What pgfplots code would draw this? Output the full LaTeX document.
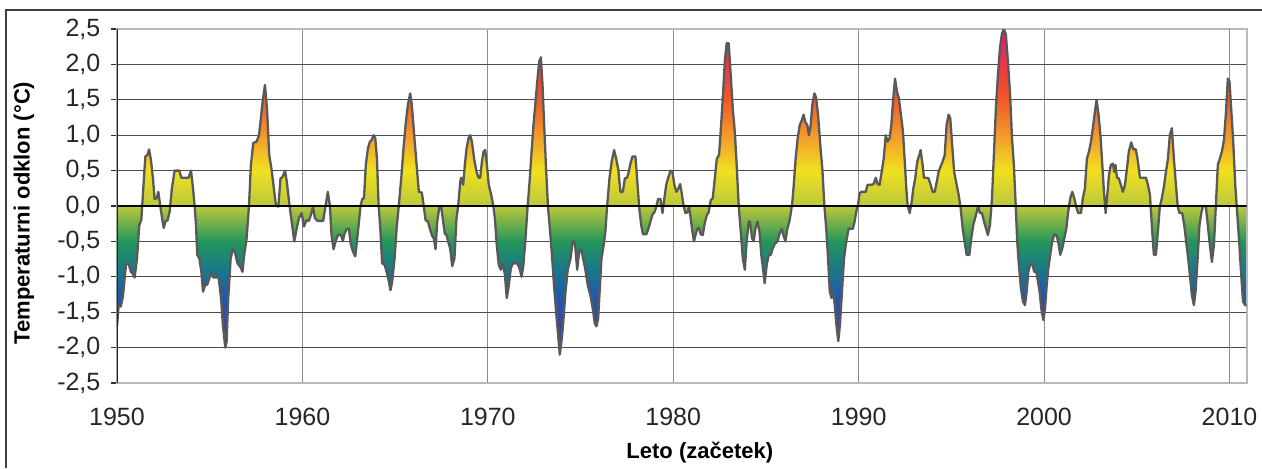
\documentclass[border=0pt]{standalone}
\usepackage{fontspec}
\setmainfont{Liberation Sans}
\usepackage{pgfplots}
\pgfplotsset{compat=1.18}
\definecolor{c25}{HTML}{E0187E}
\definecolor{c22}{HTML}{E82A5E}
\definecolor{c18}{HTML}{EE4438}
\definecolor{c15}{HTML}{F05A28}
\definecolor{c10}{HTML}{F29A2C}
\definecolor{c05}{HTML}{F0E020}
\definecolor{c00}{HTML}{BCC83C}
\definecolor{m05}{HTML}{24965A}
\definecolor{m09}{HTML}{1A7888}
\definecolor{m13}{HTML}{2256AC}
\definecolor{m17}{HTML}{3A46A4}
\definecolor{m21}{HTML}{6A3C9C}
\definecolor{outline}{HTML}{595959}
% shading spans the data range -2.1 .. 2.5 (25bp .. 75bp)
\pgfdeclareverticalshading{oni}{100bp}{color(0bp)=(m21); color(25bp)=(m21); color(29.35bp)=(m17); color(33.70bp)=(m13); color(38.04bp)=(m09); color(42.39bp)=(m05); color(47.83bp)=(c00); color(53.26bp)=(c05); color(58.70bp)=(c10); color(64.13bp)=(c15); color(67.39bp)=(c18); color(71.74bp)=(c22); color(75bp)=(c25); color(100bp)=(c25)}
\pgfplotstableread{
year val
1950.00 -1.70
1950.09 -1.40
1950.20 -1.42
1950.32 -1.28
1950.49 -0.81
1950.63 -0.82
1950.75 -0.93
1950.84 -0.95
1950.95 -1.01
1951.08 -0.74
1951.20 -0.27
1951.31 -0.20
1951.44 0.34
1951.53 0.70
1951.64 0.72
1951.73 0.80
1951.83 0.65
1951.94 0.39
1952.03 0.10
1952.14 0.11
1952.23 0.20
1952.34 -0.01
1952.43 -0.17
1952.52 -0.31
1952.61 -0.22
1952.73 -0.20
1952.84 -0.08
1952.96 0.25
1953.11 0.50
1953.36 0.50
1953.47 0.40
1953.86 0.40
1953.99 0.50
1954.10 0.25
1954.19 -0.01
1954.26 -0.27
1954.33 -0.69
1954.44 -0.74
1954.55 -0.93
1954.64 -1.21
1954.75 -1.12
1954.87 -1.11
1954.98 -1.02
1955.09 -0.93
1955.19 -1.01
1955.48 -1.01
1955.61 -1.30
1955.71 -1.68
1955.84 -2.00
1955.91 -1.92
1956.00 -1.30
1956.13 -0.74
1956.25 -0.61
1956.36 -0.65
1956.50 -0.81
1956.65 -0.86
1956.77 -0.93
1956.86 -0.69
1956.99 -0.46
1957.12 0.01
1957.22 0.58
1957.35 0.89
1957.53 0.91
1957.66 1.00
1957.76 1.24
1957.85 1.47
1957.98 1.71
1958.09 1.38
1958.21 0.72
1958.34 0.51
1958.46 0.25
1958.57 0.01
1958.70 -0.01
1958.82 0.39
1958.93 0.41
1959.06 0.50
1959.16 0.34
1959.29 0.04
1959.42 -0.22
1959.56 -0.50
1959.69 -0.32
1959.81 -0.17
1959.96 -0.10
1960.08 -0.29
1960.22 -0.20
1960.35 -0.21
1960.46 -0.12
1960.57 -0.01
1960.67 -0.17
1960.82 -0.21
1961.12 -0.21
1961.25 0.01
1961.37 0.20
1961.48 0.01
1961.57 -0.41
1961.68 -0.61
1961.81 -0.48
1961.93 -0.41
1962.09 -0.41
1962.18 -0.50
1962.27 -0.39
1962.40 -0.32
1962.51 -0.32
1962.60 -0.53
1962.72 -0.64
1962.85 -0.71
1962.94 -0.50
1963.05 -0.22
1963.14 0.01
1963.23 0.10
1963.32 0.11
1963.42 0.58
1963.53 0.81
1963.64 0.91
1963.73 0.93
1963.84 1.00
1963.93 0.96
1964.02 0.67
1964.11 0.01
1964.20 -0.32
1964.30 -0.81
1964.43 -0.83
1964.54 -0.93
1964.65 -1.05
1964.75 -1.19
1964.84 -1.07
1964.97 -0.74
1965.08 -0.32
1965.20 0.01
1965.33 0.39
1965.45 0.81
1965.58 1.19
1965.69 1.43
1965.81 1.59
1965.90 1.43
1966.03 1.00
1966.16 0.58
1966.28 0.20
1966.44 0.19
1966.55 -0.01
1966.64 -0.20
1966.77 -0.22
1966.87 -0.32
1966.98 -0.41
1967.09 -0.46
1967.18 -0.61
1967.27 -0.22
1967.39 -0.01
1967.48 0.00
1967.59 -0.22
1967.68 -0.39
1967.77 -0.41
1967.86 -0.50
1967.97 -0.60
1968.08 -0.85
1968.20 -0.74
1968.31 -0.17
1968.40 0.00
1968.51 0.34
1968.56 0.40
1968.67 0.30
1968.76 0.58
1968.85 0.81
1968.96 0.96
1969.05 1.00
1969.14 0.91
1969.26 0.67
1969.39 0.48
1969.50 0.40
1969.59 0.40
1969.68 0.63
1969.77 0.77
1969.86 0.79
1969.95 0.58
1970.05 0.30
1970.18 0.16
1970.29 0.01
1970.38 -0.17
1970.48 -0.55
1970.59 -0.83
1970.70 -0.90
1970.81 -0.81
1970.92 -0.97
1971.02 -1.30
1971.11 -1.16
1971.24 -0.88
1971.35 -0.81
1971.60 -0.81
1971.73 -0.90
1971.82 -1.00
1971.92 -0.83
1972.03 -0.46
1972.14 -0.03
1972.25 0.34
1972.36 0.77
1972.46 1.14
1972.57 1.47
1972.68 1.80
1972.77 2.04
1972.86 2.10
1972.95 1.71
1973.04 1.14
1973.14 0.53
1973.25 -0.03
1973.36 -0.36
1973.47 -0.74
1973.58 -1.16
1973.68 -1.49
1973.79 -1.82
1973.88 -2.10
1973.99 -1.87
1974.08 -1.60
1974.19 -1.21
1974.31 -0.90
1974.46 -0.74
1974.58 -0.50
1974.69 -0.50
1974.82 -0.90
1974.92 -0.65
1975.03 -0.61
1975.14 -0.74
1975.26 -0.90
1975.39 -1.12
1975.53 -1.26
1975.66 -1.45
1975.77 -1.66
1975.86 -1.70
1975.95 -1.59
1976.04 -1.16
1976.13 -0.74
1976.25 -0.55
1976.34 -0.36
1976.43 -0.01
1976.56 0.39
1976.68 0.63
1976.81 0.79
1976.92 0.67
1977.04 0.51
1977.15 0.20
1977.28 0.20
1977.39 0.39
1977.51 0.40
1977.60 0.48
1977.69 0.60
1977.80 0.70
1977.96 0.70
1978.05 0.39
1978.16 -0.01
1978.27 -0.27
1978.37 -0.40
1978.55 -0.40
1978.66 -0.32
1978.77 -0.22
1978.88 -0.12
1978.98 -0.09
1979.09 -0.01
1979.18 0.10
1979.31 0.10
1979.42 -0.10
1979.52 0.11
1979.63 0.31
1979.74 0.41
1979.85 0.50
1979.95 0.49
1980.06 0.30
1980.17 0.20
1980.28 0.25
1980.37 0.31
1980.46 0.18
1980.55 0.01
1980.66 -0.10
1980.76 -0.09
1980.85 -0.01
1980.94 -0.17
1981.03 -0.36
1981.12 -0.50
1981.21 -0.40
1981.30 -0.32
1981.39 -0.31
1981.48 -0.40
1981.59 -0.41
1981.70 -0.24
1981.81 -0.13
1981.91 -0.09
1982.02 0.08
1982.13 0.11
1982.24 0.39
1982.35 0.67
1982.47 0.72
1982.58 1.14
1982.69 1.61
1982.78 2.04
1982.88 2.30
1982.99 2.30
1983.10 1.85
1983.21 1.38
1983.32 1.05
1983.42 0.58
1983.53 0.01
1983.64 -0.36
1983.75 -0.74
1983.86 -0.90
1983.96 -0.50
1984.07 -0.22
1984.14 -0.22
1984.25 -0.46
1984.34 -0.50
1984.43 -0.32
1984.54 -0.22
1984.65 -0.36
1984.75 -0.69
1984.86 -0.93
1984.93 -1.09
1985.04 -0.83
1985.15 -0.69
1985.26 -0.69
1985.36 -0.60
1985.49 -0.53
1985.62 -0.50
1985.72 -0.40
1985.85 -0.32
1985.94 -0.41
1986.05 -0.50
1986.15 -0.32
1986.26 -0.22
1986.34 -0.10
1986.42 0.05
1986.50 0.30
1986.60 0.67
1986.71 0.96
1986.82 1.14
1986.93 1.21
1987.03 1.29
1987.12 1.19
1987.23 1.14
1987.32 1.00
1987.41 1.14
1987.50 1.43
1987.61 1.59
1987.70 1.54
1987.81 1.29
1987.93 0.86
1988.04 0.53
1988.15 0.01
1988.26 -0.36
1988.35 -0.74
1988.44 -1.21
1988.54 -1.30
1988.62 -1.21
1988.71 -1.40
1988.80 -1.68
1988.90 -1.91
1988.99 -1.68
1989.10 -1.21
1989.21 -0.74
1989.33 -0.50
1989.46 -0.32
1989.57 -0.32
1989.69 -0.32
1989.78 -0.22
1989.87 -0.08
1989.96 0.01
1990.05 0.18
1990.14 0.20
1990.38 0.20
1990.48 0.30
1990.68 0.30
1990.81 0.31
1990.92 0.40
1991.02 0.31
1991.13 0.30
1991.24 0.48
1991.35 0.67
1991.46 1.00
1991.56 0.91
1991.67 0.96
1991.76 1.14
1991.85 1.47
1991.96 1.80
1992.07 1.61
1992.17 1.52
1992.28 1.29
1992.39 1.05
1992.48 0.65
1992.57 0.25
1992.64 0.01
1992.75 -0.10
1992.86 0.06
1992.95 0.25
1993.05 0.39
1993.16 0.63
1993.27 0.72
1993.34 0.79
1993.45 0.58
1993.52 0.40
1993.67 0.40
1993.77 0.39
1993.88 0.30
1993.99 0.20
1994.10 0.20
1994.21 0.34
1994.31 0.48
1994.42 0.56
1994.53 0.63
1994.64 0.72
1994.74 1.14
1994.85 1.29
1994.94 1.24
1995.03 0.91
1995.15 0.48
1995.27 0.32
1995.39 0.16
1995.50 -0.03
1995.61 -0.32
1995.71 -0.50
1995.82 -0.69
1995.97 -0.69
1996.07 -0.46
1996.18 -0.27
1996.32 -0.13
1996.45 0.00
1996.54 -0.10
1996.65 -0.10
1996.76 -0.22
1996.87 -0.32
1996.97 -0.41
1997.08 -0.27
1997.19 0.11
1997.30 0.77
1997.40 1.38
1997.51 1.85
1997.62 2.23
1997.73 2.44
1997.83 2.50
1997.94 2.42
1998.05 2.04
1998.16 1.61
1998.27 0.96
1998.37 0.58
1998.47 0.01
1998.55 -0.50
1998.64 -0.83
1998.75 -1.16
1998.86 -1.35
1998.97 -1.40
1999.06 -1.21
1999.15 -0.93
1999.26 -0.81
1999.36 -0.82
1999.47 -0.93
1999.58 -0.93
1999.67 -1.07
1999.76 -1.21
1999.85 -1.45
1999.96 -1.61
2000.05 -1.45
2000.14 -1.12
2000.23 -0.88
2000.33 -0.69
2000.44 -0.50
2000.55 -0.40
2000.66 -0.41
2000.76 -0.50
2000.87 -0.69
2000.98 -0.60
2001.09 -0.46
2001.20 -0.32
2001.30 -0.08
2001.41 0.11
2001.52 0.20
2001.63 0.11
2001.73 -0.01
2001.84 -0.10
2001.99 -0.10
2002.09 0.11
2002.20 0.25
2002.31 0.67
2002.42 0.77
2002.53 0.91
2002.63 1.10
2002.74 1.33
2002.83 1.50
2002.94 1.29
2003.05 0.96
2003.14 0.58
2003.23 0.20
2003.32 -0.10
2003.41 0.16
2003.50 0.44
2003.60 0.58
2003.71 0.60
2003.78 0.48
2003.85 0.58
2003.93 0.40
2004.03 0.39
2004.14 0.30
2004.25 0.20
2004.36 0.30
2004.47 0.53
2004.57 0.77
2004.70 0.90
2004.81 0.80
2004.95 0.80
2005.06 0.63
2005.17 0.40
2005.49 0.40
2005.60 0.30
2005.71 0.16
2005.81 -0.27
2005.92 -0.69
2006.03 -0.69
2006.14 -0.36
2006.24 -0.01
2006.35 0.11
2006.46 0.27
2006.57 0.48
2006.68 0.67
2006.78 1.00
2006.89 1.10
2007.00 0.67
2007.11 0.30
2007.21 -0.01
2007.30 -0.10
2007.45 -0.10
2007.56 -0.27
2007.66 -0.50
2007.77 -0.74
2007.88 -1.02
2007.97 -1.26
2008.08 -1.40
2008.17 -1.21
2008.28 -0.74
2008.38 -0.27
2008.49 -0.08
2008.58 0.00
2008.72 0.00
2008.83 -0.27
2008.94 -0.55
2009.05 -0.79
2009.16 -0.55
2009.26 -0.01
2009.37 0.58
2009.48 0.67
2009.59 0.77
2009.70 0.93
2009.80 1.29
2009.91 1.80
2010.00 1.76
2010.09 1.38
2010.20 0.91
2010.31 0.30
2010.41 -0.08
2010.52 -0.50
2010.63 -0.97
2010.73 -1.35
2010.84 -1.40
2010.917 -1.40
}\onidata
\begin{document}
\begin{tikzpicture}[x=1pt,y=1pt]
\useasboundingbox (0,0) rectangle (631,234);
\draw[black!75, line width=0.6pt] (3,0) -- (3,229) -- (631,229);
\begin{axis}[
  at={(58.5pt,42.5pt)}, anchor=south west,
  scale only axis, width=564.75pt, height=177pt,
  xmin=1950, xmax=2010.917, ymin=-2.5, ymax=2.5,
  xtick={1950,1960,...,2000},
  extra x ticks={2010},
  extra x tick labels={2010},
  extra x tick style={grid style={black!75, line width=0.5pt}},
  ytick={-2.5,-2,...,2.5},
  grid=major,
  x grid style={gray!90, line width=0.55pt},
  y grid style={black!70, line width=0.5pt},
  axis line style={gray!55, line width=1pt},
  xtick style={draw=none},
  ytick pos=left, xtick pos=bottom,
  tick align=outside,
  y tick style={black!80, line width=0.6pt},
  major tick length=2.8pt,
  tick label style={font=\fontsize{12.5}{14}\selectfont, text=black!85},
  /pgf/number format/assume math mode=true,
  xticklabel style={/pgf/number format/1000 sep={}, yshift=-6pt},
  yticklabel style={/pgf/number format/fixed, /pgf/number format/fixed zerofill, /pgf/number format/precision=1, /pgf/number format/use comma, xshift=-2pt},
  xlabel={Leto (začetek)},
  ylabel={Temperaturni odklon (°C)},
  every axis x label/.style={at={(rel axis cs:0.516,0)}, anchor=center, yshift=-35pt, font=\bfseries\fontsize{11}{13}\selectfont},
  every axis y label/.style={at={(rel axis cs:0,0.48)}, anchor=center, xshift=-46.5pt, rotate=90, font=\bfseries\fontsize{11}{13}\selectfont},
  clip=true,
]
\addplot[draw=none, shade, shading=oni, shading angle=0] table[x=year, y=val] {\onidata} \closedcycle;
\addplot[outline, line width=1.15pt, line join=round] table[x=year, y=val] {\onidata};
\addplot[black, line width=0.8pt] coordinates {(1950,0) (2010.917,0)};
\draw[black!85, line width=0.8pt] (rel axis cs:0,0) -- (rel axis cs:0,1);
\end{axis}
\end{tikzpicture}
\end{document}
